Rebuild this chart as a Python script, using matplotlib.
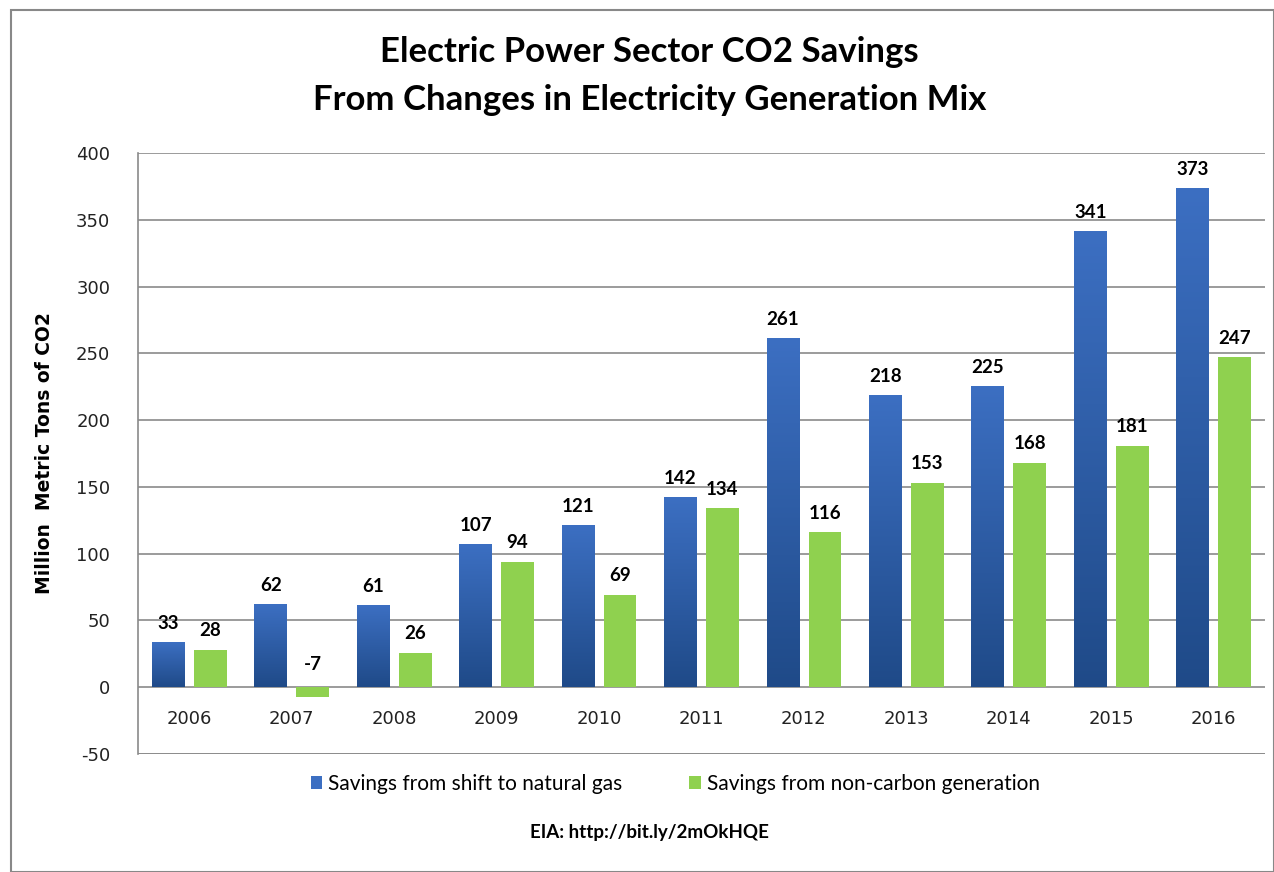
import numpy as np
import matplotlib
matplotlib.use('Agg')
import matplotlib.pyplot as plt
from matplotlib.patches import Rectangle, Patch
from matplotlib.colors import LinearSegmentedColormap

# datos
years = ['2006', '2007', '2008', '2009', '2010', '2011',
         '2012', '2013', '2014', '2015', '2016']
gas = [33, 62, 61, 107, 121, 142, 261, 218, 225, 341, 373]
noncarbon = [28, -7, 26, 94, 69, 134, 116, 153, 168, 181, 247]
yticks = [-50, 0, 50, 100, 150, 200, 250, 300, 350, 400]

blue_top = '#3c6fc2'
blue_bot = '#1f4a88'
green = '#8fd14f'

fig = plt.figure(figsize=(12.74, 8.72), dpi=100)
fig.patch.set_facecolor('white')
ax = fig.add_axes([0.1083, 0.1353, 0.8846, 0.6892])

x = np.arange(len(years))
w = 0.32
off = 0.205

# barras azules con degradado
cmap = LinearSegmentedColormap.from_list('az', [blue_bot, blue_top])
grad = np.linspace(0, 1, 256).reshape(-1, 1)
for xi, v in zip(x, gas):
    ax.imshow(grad, extent=[xi - off - w/2, xi - off + w/2, 0, v],
              origin='lower', cmap=cmap, aspect='auto', zorder=3)
ax.bar(x + off, noncarbon, width=w, color=green, zorder=3)

# etiquetas de valores
for xi, v in zip(x, gas):
    ax.text(xi - off, v + 8, str(v), ha='center', va='bottom',
            fontsize=13.5, fontweight='bold', family='Lato', zorder=4)
for xi, v in zip(x, noncarbon):
    ax.text(xi + off, v + 8 if v >= 0 else 11, str(v),
            ha='center', va='bottom', fontsize=13.5, fontweight='bold',
            family='Lato', zorder=4)

# etiquetas de años dentro del área
for xi, y in zip(x, years):
    ax.text(xi, -24, y, ha='center', va='center', fontsize=13,
            color='#222222')

ax.set_xlim(-0.5, len(years) - 0.5)
ax.set_ylim(-50, 400)
ax.set_yticks(yticks)
ax.set_yticklabels([str(t) for t in yticks], fontsize=13, color='#222222')
ax.set_xticks([])
ax.tick_params(axis='y', length=0, pad=20)
ax.grid(axis='y', color='#8a8a8a', linewidth=1.2, zorder=0)
ax.axhline(-50, color='#8a8a8a', linewidth=1.2, zorder=0)
for s in ['top', 'right', 'bottom']:
    ax.spines[s].set_visible(False)
ax.spines['left'].set_color('#8a8a8a')
ax.spines['left'].set_linewidth(1.2)

ax.set_ylabel('Million  Metric Tons of CO2', fontsize=13.5,
              fontweight='bold', labelpad=16)

fig.text(0.51, 0.94, 'Electric Power Sector CO2 Savings',
         ha='center', va='center', fontsize=25, fontweight='bold',
         family='Lato')
fig.text(0.51, 0.885, 'From Changes in Electricity Generation Mix',
         ha='center', va='center', fontsize=25, fontweight='bold',
         family='Lato')

handles = [Patch(facecolor=blue_top, edgecolor='none'),
           Patch(facecolor=green, edgecolor='none')]
fig.legend(handles, ['Savings from shift to natural gas',
                     'Savings from non-carbon generation'],
           loc='center', bbox_to_anchor=(0.53, 0.101), ncol=2,
           frameon=False, prop={'family': 'Lato', 'size': 15},
           handlelength=0.55, handleheight=0.55, handletextpad=0.3,
           columnspacing=3.2)

fig.text(0.51, 0.045, 'EIA: http://bit.ly/2mOkHQE', ha='center',
         va='center', fontsize=13.5, fontweight='bold', family='Lato')

# marco exterior
fig.patches.append(Rectangle((0.009, 0.0), 0.991, 0.989,
                             transform=fig.transFigure, fill=False,
                             edgecolor='#888888', linewidth=1.5))

fig.savefig('out.png', dpi=100)
